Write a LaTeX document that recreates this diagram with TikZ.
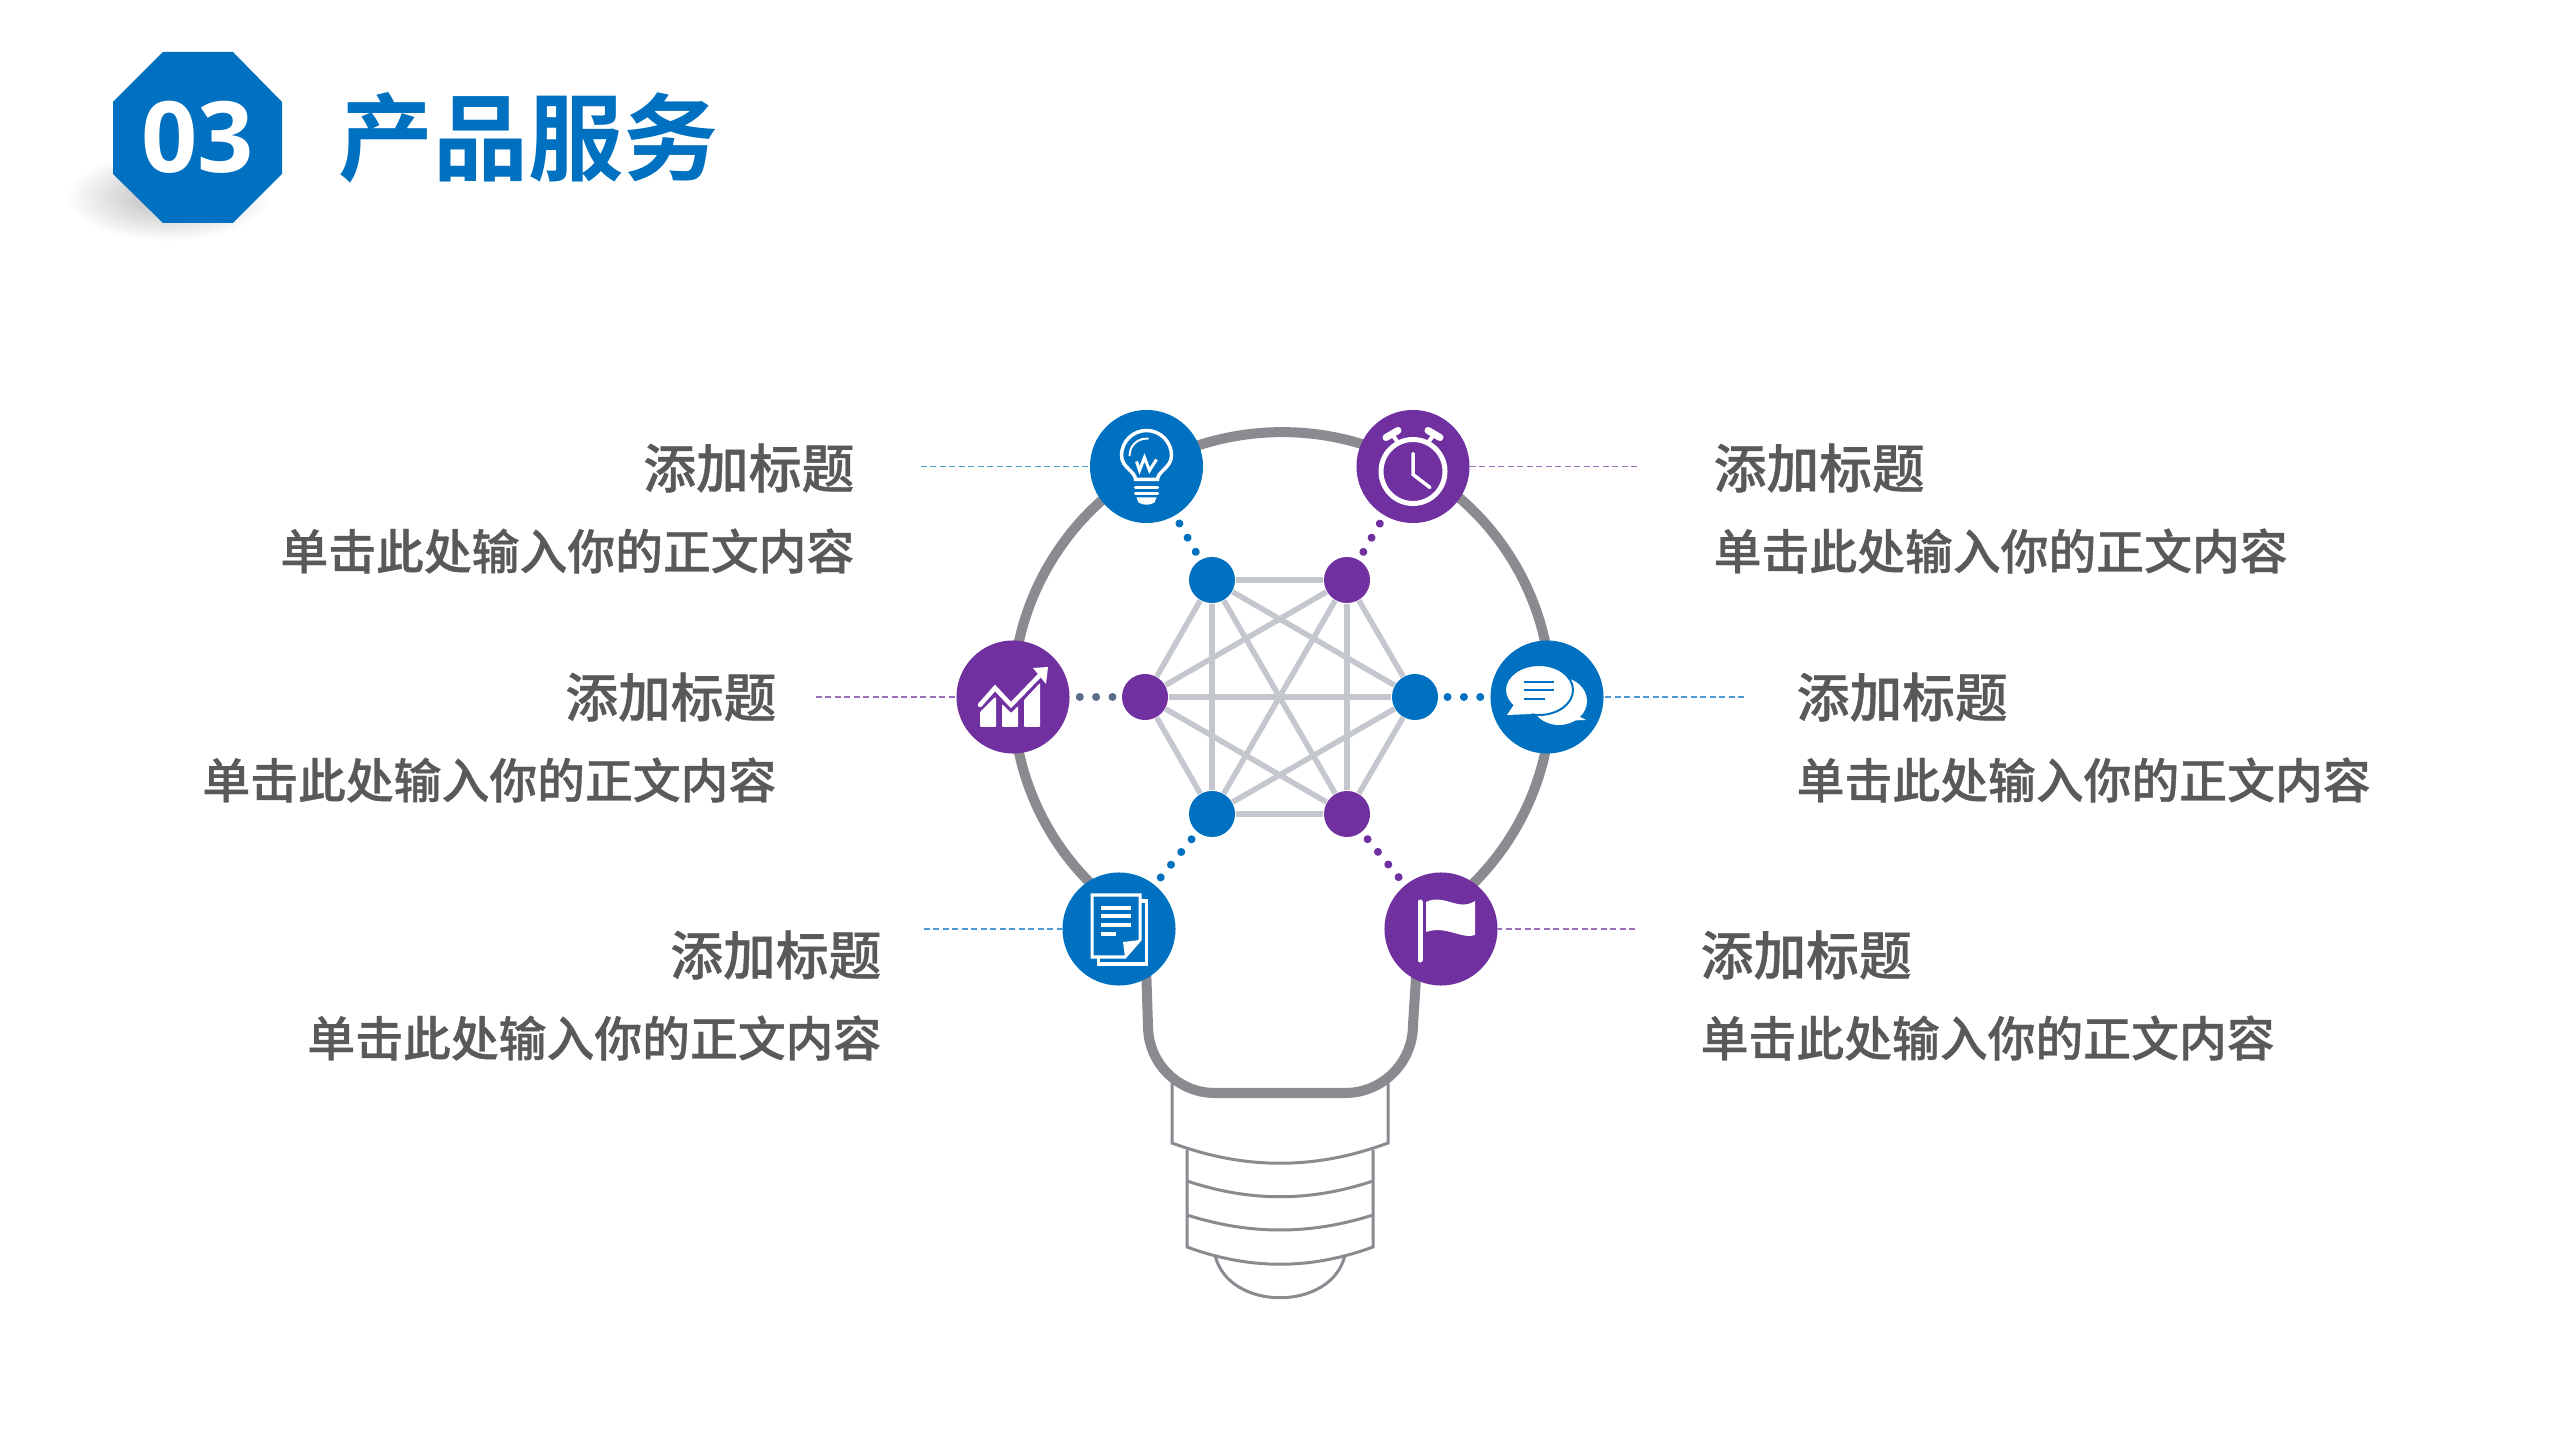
\documentclass[tikz,border=0pt]{standalone}
\usepackage{fontspec}
\setmainfont{Noto Sans CJK SC}[BoldFont={Noto Sans CJK SC Medium},BoldFeatures={FakeBold=0.7}]
\newfontfamily\titlefont{Noto Sans CJK SC Bold}
\newfontfamily\numberfont{Open Sans}
\definecolor{iconblue}{HTML}{0070C0}
\definecolor{iconpurple}{HTML}{7030A0}
\definecolor{slate}{HTML}{5D6B8A}
\definecolor{bulbgray}{HTML}{898B90}
\definecolor{edgegray}{HTML}{C5C7CE}
\definecolor{labelgray}{HTML}{595959}
\tikzstyle{icon}=[circle,minimum size=1.13cm,inner sep=0pt]
\tikzstyle{hub}=[circle,minimum size=0.46cm,inner sep=0pt]
\tikzstyle{edge}=[draw=edgegray,line width=0.055cm]
\tikzstyle{dots}=[line width=0.08cm,line cap=round,dash pattern=on 0.01pt off 0.163cm]
\tikzstyle{leader}=[line width=0.011cm,dash pattern=on 0.06cm off 0.035cm,draw opacity=0.7]
\tikzstyle{freeend}=[inner sep=0pt,minimum size=0pt]
\tikzstyle{heading}=[font=\bfseries\fontsize{15}{18}\selectfont,text=labelgray,inner sep=0pt]
\tikzstyle{body}=[font=\bfseries\fontsize{13.6}{16}\selectfont,text=labelgray,inner sep=0pt]
\tikzstyle{thinbase}=[draw=bulbgray,line width=0.03cm,line join=miter]
\begin{document}
\begin{tikzpicture}[x=0.01cm,y=-0.01cm]
    \useasboundingbox (0,0) rectangle (2560,1440);
    % Title badge
    \shade[inner color=black!28,outer color=white] (168,197) ellipse [x radius=102,y radius=44];
    \node[freeend] (badge) at (197.5,137.5) {};
    \fill[iconblue] (163,52) -- (233,52) -- (282,102) -- (282,174) -- (233,223) -- (163,223) -- (113,174) -- (113,102) -- cycle;
    \node[font=\numberfont\bfseries\fontsize{28}{34}\selectfont,text=white,inner sep=0pt] (number) at (badge) {03};
    \node[font=\titlefont\fontsize{27}{32}\selectfont,text=iconblue,inner sep=0pt,anchor=west] (title) at (338,138) {产品服务};
    % Lamp base and outline
    \draw[thinbase] (1172,1083) -- (1172,1143) .. controls (1245,1170) and (1315,1170) .. (1388,1143) -- (1388,1083);
    \draw[thinbase] (1187,1150) -- (1187,1247) .. controls (1250,1270) and (1310,1270) .. (1373,1247) -- (1373,1150);
    \draw[thinbase] (1187,1181) .. controls (1250,1202) and (1310,1202) .. (1373,1181);
    \draw[thinbase] (1187,1215) .. controls (1250,1235) and (1310,1235) .. (1373,1215);
    \draw[thinbase] (1215,1255) .. controls (1228,1312) and (1332,1312) .. (1345,1255);
    \draw[bulbgray,line width=0.1cm] (1144.7,925) arc [start angle=120.7,end angle=419.3,x radius=269,y radius=265] -- (1413,1025) arc [start angle=0,end angle=90,radius=68] -- (1215,1093) arc [start angle=90,end angle=180,radius=67] -- cycle;
    % First we draw the nodes
    \foreach \pos/\name/\col in {{(1146.5,466.5)/lamp/iconblue}, {(1413,466.5)/clock/iconpurple}, {(1013,697)/chart/iconpurple}, {(1547,697)/chat/iconblue}, {(1119,929)/page/iconblue}, {(1441,929)/flag/iconpurple}}
        \node[icon,fill=\col] (\name) at \pos {};
    \foreach \pos/\name/\col in {{(1212,580)/hubA/iconblue}, {(1347,580)/hubB/iconpurple}, {(1145,697)/hubC/iconpurple}, {(1415,697)/hubD/iconblue}, {(1212,814)/hubE/iconblue}, {(1347,814)/hubF/iconpurple}}
        \node[hub,fill=\col] (\name) at \pos {};
    % Connect hubs with edges
    \foreach \source/\dest in {hubA/hubB, hubA/hubC, hubA/hubD, hubA/hubE, hubA/hubF, hubB/hubC, hubB/hubD, hubB/hubE, hubB/hubF, hubC/hubD, hubC/hubE, hubC/hubF, hubD/hubE, hubD/hubF, hubE/hubF}
        \path[edge] (\source) -- (\dest);
    % Dots from hubs to icons
    \foreach \source/\dest/\col/\far in {hubA/lamp/iconblue/0.64, hubB/clock/iconpurple/0.64, hubC/chart/slate/0.645, hubD/chat/iconblue/0.645, hubE/page/iconblue/0.65, hubF/flag/iconpurple/0.65}
        \draw[dots,\col,shorten <=0.325cm,shorten >=\far cm] (\source.center) -- (\dest.center);
    % Labels and leaders
    \foreach \pos/\name/\side/\sub in {{(855,468)/labelA/east/bodyA}, {(777,697)/labelC/east/bodyC}, {(882,955)/labelE/east/bodyE}, {(1713,468)/labelB/west/bodyB}, {(1796,697)/labelD/west/bodyD}, {(1700,955)/labelF/west/bodyF}}{
        \node[heading,anchor=\side] (\name) at \pos {添加标题};
        \node[body,anchor=\side,yshift=-0.83cm] (\sub) at \pos {单击此处输入你的正文内容};
    }
    \foreach \pos/\name/\dest/\col in {{(920,466.5)/endA/lamp/iconblue!70!teal}, {(1638,466.5)/endB/clock/iconpurple}, {(815,697)/endC/chart/iconpurple}, {(1745,697)/endD/chat/iconblue}, {(923,929)/endE/page/iconblue}, {(1636,929)/endF/flag/iconpurple}}{
        \node[freeend] (\name) at \pos {};
        \draw[leader,\col] (\name) -- (\dest);
    }
    % Icon: lamp
    \begin{scope}[shift={(lamp.center)},white]
        \draw[line width=0.035cm] (-11,13) .. controls (-11,5) and (-25,1) .. (-25,-11) arc [start angle=180,end angle=360,radius=25] .. controls (25,1) and (11,5) .. (11,13) -- cycle;
        \draw[line width=0.02cm,line cap=round] (-17,-11) arc [start angle=180,end angle=275,radius=17];
        \draw[line width=0.03cm] (-10,-5) -- (-7,4) -- (-2,-9) -- (3,4) -- (10,-7);
        \draw[line width=0.035cm,line cap=round] (-11,21) -- (11,21) (-11,27) -- (11,27);
        \fill (-10,31) -- (10,31) -- (8,36) .. controls (3,39) and (-3,39) .. (-8,36) -- cycle;
    \end{scope}
    % Icon: clock
    \begin{scope}[shift={(clock.center)},white]
        \draw[line width=0.05cm] (0,5) circle [radius=32];
        \draw[line width=0.035cm,line cap=round] (0,-13) -- (0,8) -- (17,21);
        \draw[line width=0.07cm,line cap=round] (-27,-29) -- (-15,-36) (27,-29) -- (15,-36);
        \draw[line width=0.04cm] (-21,-32) -- (-15,-24) (21,-32) -- (15,-24);
    \end{scope}
    % Icon: chart
    \begin{scope}[shift={(chart.center)},white]
        \draw[line width=0.045cm,line cap=round,line join=miter] (-33,8) -- (-18,-9) -- (-2,8) -- (27,-22);
        \fill (20,-29) -- (35,-30) -- (33,-13) -- cycle;
        \fill[rounded corners=0.01cm] (-33,30) -- (-33,15) -- (-18,0) -- (-17,1) -- (-17,30) -- cycle;
        \fill[rounded corners=0.01cm] (-11,30) -- (-11,7) -- (-2,16) -- (5,9) -- (5,30) -- cycle;
        \fill[rounded corners=0.01cm] (11,30) -- (11,3) -- (27,-14) -- (27,30) -- cycle;
    \end{scope}
    % Icon: chat
    \begin{scope}[shift={(chat.center)}]
        \fill[white] (12,4) ellipse [x radius=28,y radius=24];
        \fill[white] (25,16) -- (39,23) -- (10,24) -- cycle;
        \draw[iconblue,line width=0.02cm,fill=white] (-8,-7) ellipse [x radius=34,y radius=25];
        \fill[white] (-32,6) -- (-40,18) -- (-15,17) -- cycle;
        \draw[iconblue,line width=0.025cm] (-23,-15) -- (7,-15) (-23,-7) -- (7,-7) (-23,2) -- (-2,2);
    \end{scope}
    % Icon: page
    \begin{scope}[shift={(page.center)},white]
        \draw[line width=0.03cm] (-21,-28) rectangle (27,35);
        \draw[line width=0.03cm,fill=iconblue] (-27,-34) -- (21,-34) -- (21,11) -- (6,28) -- (-27,28) -- cycle;
        \draw[line width=0.03cm] (-18,-21) -- (12,-21) (-18,-13) -- (12,-13) (-18,-4) -- (12,-4) (-18,5) -- (-3,5);
        \fill (21,11) -- (6,28) -- (4,13) -- cycle;
    \end{scope}
    % Icon: flag
    \begin{scope}[shift={(flag.center)},white]
        \draw[line width=0.05cm,line cap=round] (-21,-27) -- (-21,31);
        \fill (-15,-27) .. controls (3,-36) and (17,-17) .. (34,-28) -- (34,6) .. controls (22,11) and (5,-4) .. (-15,3) -- cycle;
    \end{scope}
\end{tikzpicture}
\end{document}
